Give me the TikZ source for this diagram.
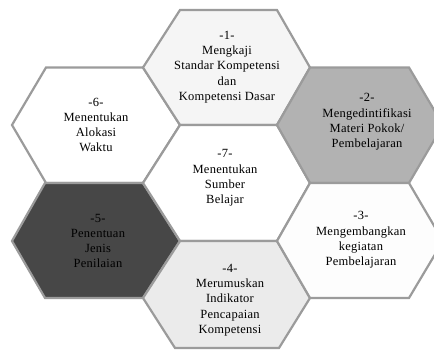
\documentclass[tikz,border=0pt]{standalone}
\usepackage{fontspec}
\setmainfont{Liberation Serif}[LetterSpace=2]
\definecolor{bord}{RGB}{155,155,155}
\definecolor{fillA}{RGB}{245,245,245}
\definecolor{fillB}{RGB}{178,178,178}
\definecolor{fillC}{RGB}{253,253,253}
\definecolor{fillD}{RGB}{235,235,235}
\definecolor{fillE}{RGB}{71,71,71}
\tikzset{
  hexbox/.style={draw=bord, line width=2.2pt, line join=miter},
  hextext/.style={align=center, inner sep=0pt, text=black,
    font=\fontsize{12.5}{15.3}\selectfont}
}
\begin{document}
\begin{tikzpicture}[x=1pt,y=-1pt]
\useasboundingbox (0,0) rectangle (434,351);
\clip (0,0) rectangle (434,351);
% hex 6 (upper left)
\draw[hexbox, fill=white] (12,125) -- (46,67.5) -- (143,67.5) -- (180,125) -- (143,183) -- (46,183) -- cycle;
% hex 5 (lower left)
\draw[hexbox, fill=fillE] (12,241) -- (45,183) -- (143,183) -- (180,241) -- (143,298) -- (45,298) -- cycle;
% hex 1 (top)
\draw[hexbox, fill=fillA] (143,67.5) -- (180,10) -- (277,10) -- (310,67.5) -- (277,125) -- (180,125) -- cycle;
% hex 7 (centre)
\draw[hexbox, fill=white] (143,183) -- (180,125) -- (277,125) -- (310,183) -- (277,241) -- (180,241) -- cycle;
% hex 4 (bottom)
\draw[hexbox, fill=fillD] (143,298) -- (180,241) -- (277,241) -- (310,298) -- (279,348) -- (175,348) -- cycle;
% hex 2 (upper right)
\draw[hexbox, fill=fillB] (277,125) -- (310,67.5) -- (409,67.5) -- (443,125) -- (409,183) -- (310,183) -- cycle;
% hex 3 (lower right)
\draw[hexbox, fill=fillC] (277,241) -- (310,183) -- (409,183) -- (443,241) -- (409,298) -- (310,298) -- cycle;
% texts
\node[hextext] (t1) at (227,67) {-1-\\Mengkaji\\Standar Kompetensi\\dan\\Kompetensi Dasar};
\node[hextext] (t2) at (367,122) {-2-\\Mengedintifikasi\\Materi Pokok/\\Pembelajaran};
\node[hextext] (t3) at (361,240) {-3-\\Mengembangkan\\kegiatan\\Pembelajaran};
\node[hextext] (t4) at (230,300) {-4-\\Merumuskan\\Indikator\\Pencapaian\\Kompetensi};
\node[hextext] (t5) at (98,241) {-5-\\Penentuan\\Jenis\\Penilaian};
\node[hextext] (t6) at (96,125) {-6-\\Menentukan\\Alokasi\\Waktu};
\node[hextext] (t7) at (225,178) {-7-\\Menentukan\\Sumber\\Belajar};
\end{tikzpicture}
\end{document}
